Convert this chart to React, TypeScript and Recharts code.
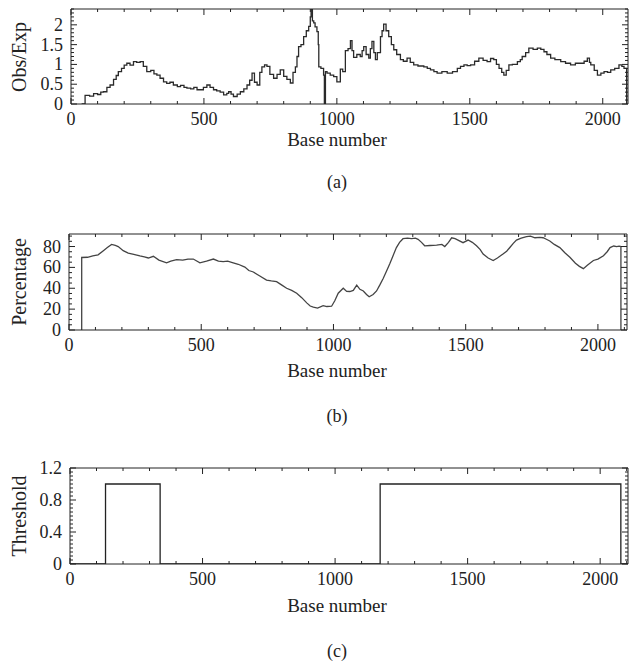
import { LineChart, Line, XAxis, YAxis } from 'recharts';

const FONT = '"Liberation Serif", "DejaVu Serif", serif';
const W = 629;
const H = 662;

// (a) observed / expected ratio along the sequence
const obsExpBase = [
  40, 53, 70, 85, 100, 112, 122, 135, 147, 160, 170, 178, 190, 200, 210, 222, 235, 247, 260, 272,
  285, 300, 312, 323, 335, 348, 360, 372, 385, 400, 412, 425, 436, 450, 462, 474, 486, 498, 511, 523,
  536, 548, 561, 574, 586, 593, 602, 611, 625, 637, 650, 662, 672, 681, 690, 700, 710, 718, 728, 737,
  748, 762, 775, 787, 800, 812, 825, 835, 844, 850, 856, 865, 875, 885, 894, 900, 903, 908, 913, 918,
  925, 930, 932, 940, 950, 953, 957, 963, 975, 988, 1000, 1013, 1022, 1032, 1042, 1051, 1057, 1063, 1075, 1088,
  1095, 1101, 1110, 1120, 1126, 1132, 1139, 1145, 1152, 1164, 1170, 1176, 1185, 1195, 1205, 1214, 1225, 1239, 1250, 1264,
  1276, 1289, 1305, 1327, 1340, 1352, 1365, 1377, 1395, 1415, 1435, 1453, 1465, 1478, 1490, 1503, 1518, 1534, 1550, 1565,
  1578, 1590, 1600, 1610, 1620, 1628, 1637, 1647, 1660, 1679, 1690, 1697, 1710, 1722, 1738, 1754, 1767, 1779, 1790, 1804,
  1820, 1842, 1860, 1879, 1897, 1917, 1930, 1942, 1950, 1955, 1968, 1980, 1993, 2005, 2018, 2030, 2045, 2061, 2072, 2080,
  2090,
];
const obsExpValue = [
  0, 0.22, 0.2, 0.26, 0.24, 0.3, 0.31, 0.42, 0.48, 0.62, 0.72, 0.82, 0.9, 0.98, 1.03, 0.98, 1.07, 1.05, 1.07, 0.95,
  0.82, 0.85, 0.76, 0.73, 0.65, 0.56, 0.52, 0.55, 0.48, 0.44, 0.47, 0.42, 0.4, 0.38, 0.42, 0.36, 0.36, 0.42, 0.48, 0.42,
  0.36, 0.33, 0.3, 0.23, 0.27, 0.31, 0.25, 0.19, 0.25, 0.31, 0.38, 0.48, 0.6, 0.78, 0.55, 0.48, 0.8, 0.94, 0.99, 0.95,
  0.75, 0.65, 0.75, 0.86, 0.7, 0.62, 0.53, 0.8, 0.94, 1.2, 1.45, 1.5, 1.7, 1.85, 1.96, 2.2, 2.4, 2.1, 2.05, 1.95,
  1.83, 1.5, 0.94, 0.9, 0.73, 0, 0.82, 0.78, 0.73, 0.69, 0.56, 0.88, 0.82, 1.35, 1.4, 1.6, 1.35, 1.18, 1.25, 1.2,
  1.35, 1.45, 1.25, 1.16, 1.4, 1.58, 1.3, 1.12, 1.3, 1.7, 1.85, 2.02, 1.85, 1.7, 1.5, 1.37, 1.25, 1.12, 1.08, 1.16,
  1.05, 0.99, 0.96, 0.94, 0.9, 0.86, 0.82, 0.78, 0.82, 0.78, 0.82, 0.9, 0.95, 0.99, 0.97, 0.99, 1.08, 1.16, 1.1, 1.07,
  1.15, 1.12, 1.0, 0.9, 0.8, 0.73, 0.85, 0.99, 1.0, 1.07, 1.12, 1.2, 1.3, 1.41, 1.38, 1.41, 1.38, 1.32, 1.25, 1.16,
  1.12, 1.07, 1.03, 0.99, 1.03, 1.03, 1.08, 1.16, 1.05, 0.99, 0.85, 0.73, 0.78, 0.82, 0.8, 0.86, 0.9, 0.99, 0.95, 0.9,
  0,
];

// (b) percentage
const pctBase = [
  48, 48, 70, 90, 110, 130, 145, 161, 175, 186, 205, 224, 245, 268, 285, 300, 319, 340, 369, 385,
  407, 430, 450, 470, 495, 520, 546, 565, 583, 600, 621, 640, 665, 680, 697, 720, 747, 765, 785, 805,
  823, 842, 861, 880, 899, 912, 924, 940, 961, 975, 993, 1005, 1018, 1037, 1050, 1062, 1075, 1088, 1100, 1113,
  1125, 1135, 1150, 1163, 1175, 1188, 1200, 1213, 1225, 1238, 1250, 1263, 1280, 1295, 1310, 1320, 1333, 1345, 1365, 1390,
  1410, 1421, 1435, 1447, 1460, 1471, 1490, 1509, 1525, 1541, 1555, 1566, 1585, 1604, 1620, 1641, 1655, 1667, 1680, 1692,
  1710, 1730, 1745, 1762, 1780, 1793, 1805, 1818, 1835, 1856, 1875, 1894, 1915, 1930, 1945, 1960, 1983, 2000, 2021, 2035,
  2046, 2060, 2071, 2080, 2087, 2087,
];
const pctValue = [
  0, 69.5, 69.7, 71, 72, 76, 79, 82, 81, 80, 76, 73.7, 72.5, 71, 70, 69, 70.6, 67, 64.4, 66,
  67.5, 67, 68, 68, 64.4, 66, 68, 66, 65.6, 66, 64.4, 63, 60.3, 57, 55.6, 52, 47.8, 47, 46.3, 43,
  40, 38, 35.3, 31, 26, 23, 21.9, 21, 23.4, 22.5, 22.8, 28, 35.3, 40, 37, 36.9, 38, 43, 39, 37.4,
  34, 31.8, 34, 37.4, 43, 49.4, 56, 63.5, 71, 79, 84, 87.5, 88, 87.5, 88, 86.9, 84, 80.7, 81, 81.3,
  82, 80, 84, 88.4, 87.5, 86.2, 83.7, 86.2, 84, 80.7, 77, 72.8, 69, 66.6, 69, 72.8, 75.5, 79.1, 83, 86.2,
  88, 89.4, 90, 88.4, 88.8, 88.4, 87, 85.3, 82, 79, 74, 69.7, 64, 61, 58.8, 62, 66.6, 68, 71.2, 75,
  79, 80.5, 80, 80.3, 80, 0,
];

// (c) threshold
const thrBase = [0, 134, 340, 1170, 2078, 2105];
const thrValue = [0, 1, 0, 1, 0, 0];

// tick labels
const xMajor = [0, 500, 1000, 1500, 2000];
const obsExpMajor = [0, 0.5, 1, 1.5, 2];
const pctMajor = [0, 20, 40, 60, 80];
const thrMajor = [0, 0.4, 0.8, 1.2];

const steps = (max: number, step: number) => {
  const out: number[] = [];
  for (let i = 0; i * step <= max + 1e-9; i++) out.push(Math.round(i * step * 1000) / 1000);
  return out;
};

const isIn = (list: number[], v: number) => list.some((m) => Math.abs(m - v) < 1e-6);

function FrameTick(props: any) {
  const { x, y, payload, side, majors, showLabel } = props;
  const v = payload.value;
  const major = isIn(majors, v);
  const len = major ? 6 : 3;
  let x2 = x;
  let y2 = y;
  if (side === 'bottom') y2 = y - len;
  if (side === 'top') y2 = y + len;
  if (side === 'left') x2 = x + len;
  if (side === 'right') x2 = x - len;
  return (
    <g>
      <line x1={x} y1={y} x2={x2} y2={y2} stroke="#222" strokeWidth={1} />
      {showLabel && major && side === 'bottom' && (
        <text x={x} y={y + 15} textAnchor="middle" dominantBaseline="central" fontFamily={FONT} fontSize={18} fill="#222">
          {String(v)}
        </text>
      )}
      {showLabel && major && side === 'left' && (
        <text x={x - 8} y={y} textAnchor="end" dominantBaseline="central" fontFamily={FONT} fontSize={18} fill="#222">
          {String(v)}
        </text>
      )}
    </g>
  );
}

interface PanelProps {
  xs: number[];
  ys: number[];
  left: number;
  right: number;
  top: number;
  bottom: number;
  xMax: number;
  yMax: number;
  yStep: number;
  yMajors: number[];
  curve: 'linear' | 'stepAfter';
  color: string;
  title: string;
  tag: string;
  nameGap: number;
  tagGap: number;
}

function Panel({ xs, ys, left, right, top, bottom, xMax, yMax, yStep, yMajors, curve, color, title, tag, nameGap, tagGap }: PanelProps) {
  const data = xs.map((x, i) => ({ x, y: ys[i] }));
  const xTicks = steps(xMax, 100);
  const yTicks = steps(yMax, yStep);
  const axisLine = { stroke: '#222', strokeWidth: 1 };
  const cx = 337;
  // axes are 1px thick boxes sitting just outside the plot area
  return (
    <>
      <div style={{ position: 'absolute', left: 0, top: 0 }}>
        <LineChart width={W} height={H} data={data}
          margin={{ top: top - 1, bottom: H - bottom - 1, left: left - 1, right: W - right - 1 }}>
          <XAxis xAxisId="b" dataKey="x" type="number" domain={[0, xMax]} ticks={xTicks} interval={0}
            height={1} tickSize={0} tickMargin={0} tickLine={false} axisLine={axisLine} allowDataOverflow
            tick={(p: any) => <FrameTick {...p} side="bottom" majors={xMajor} showLabel />} />
          <XAxis xAxisId="t" orientation="top" dataKey="x" type="number" domain={[0, xMax]} ticks={xTicks} interval={0}
            height={1} tickSize={0} tickMargin={0} tickLine={false} axisLine={axisLine} allowDataOverflow
            tick={(p: any) => <FrameTick {...p} side="top" majors={xMajor} />} />
          <YAxis yAxisId="l" type="number" domain={[0, yMax]} ticks={yTicks} interval={0}
            width={1} tickSize={0} tickMargin={0} tickLine={false} axisLine={axisLine} allowDataOverflow
            tick={(p: any) => <FrameTick {...p} side="left" majors={yMajors} showLabel />} />
          <YAxis yAxisId="r" orientation="right" type="number" domain={[0, yMax]} ticks={yTicks} interval={0}
            width={1} tickSize={0} tickMargin={0} tickLine={false} axisLine={axisLine} allowDataOverflow
            tick={(p: any) => <FrameTick {...p} side="right" majors={yMajors} />} />
          <Line xAxisId="b" yAxisId="l" dataKey="y" type={curve} stroke={color} strokeWidth={1.3}
            dot={false} activeDot={false} isAnimationActive={false} />
        </LineChart>
      </div>
      <div style={{ position: 'absolute', left: 19, top: (top + bottom) / 2, transform: 'translate(-50%, -50%) rotate(-90deg)', whiteSpace: 'nowrap', fontFamily: FONT, fontSize: 20, color: '#222', lineHeight: '22px' }}>
        {title}
      </div>
      <div style={{ position: 'absolute', left: cx, top: bottom + nameGap, transform: 'translate(-50%, -50%)', whiteSpace: 'nowrap', fontFamily: FONT, fontSize: 19, color: '#222', lineHeight: '22px' }}>
        Base number
      </div>
      <div style={{ position: 'absolute', left: cx, top: bottom + tagGap, transform: 'translate(-50%, -50%)', whiteSpace: 'nowrap', fontFamily: FONT, fontSize: 18, color: '#222', lineHeight: '20px' }}>
        {tag}
      </div>
    </>
  );
}

export default function App() {
  return (
    <div style={{ position: 'absolute', left: 0, top: 0, width: W, height: H, background: '#fff', overflow: 'hidden' }}>
      <Panel xs={obsExpBase} ys={obsExpValue} left={71} right={628} top={9} bottom={104} xMax={2095}
        yMax={2.4} yStep={0.1} yMajors={obsExpMajor} curve="stepAfter" color="#2a2a2a" title="Obs/Exp" tag="(a)"
        nameGap={36} tagGap={78} />
      <Panel xs={pctBase} ys={pctValue} left={69} right={627} top={234} bottom={330} xMax={2110}
        yMax={92} yStep={5} yMajors={pctMajor} curve="linear" color="#444" title="Percentage" tag="(b)"
        nameGap={41} tagGap={86} />
      <Panel xs={thrBase} ys={thrValue} left={70} right={628} top={468} bottom={564} xMax={2105}
        yMax={1.2} yStep={0.05} yMajors={thrMajor} curve="stepAfter" color="#222" title="Threshold" tag="(c)"
        nameGap={42} tagGap={87} />
    </div>
  );
}
